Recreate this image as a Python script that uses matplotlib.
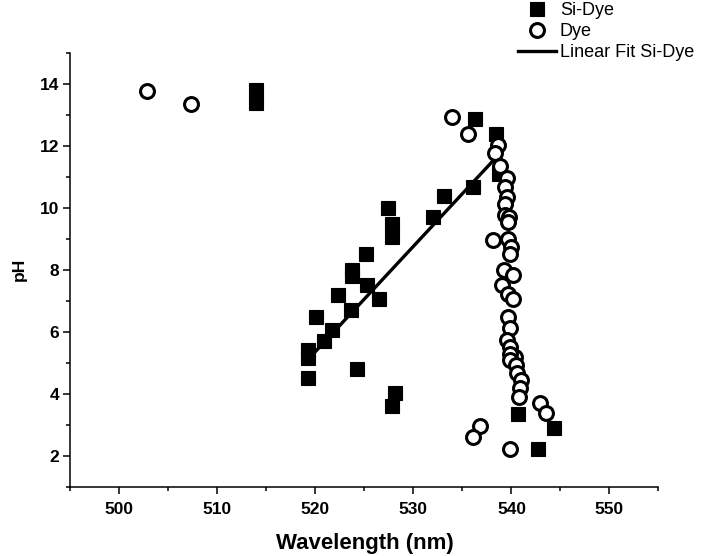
import matplotlib
matplotlib.use("Agg")
import matplotlib.pyplot as plt
import numpy as np
from matplotlib.ticker import MultipleLocator
from matplotlib.legend_handler import HandlerLine2D

plt.rcParams['font.family'] = ['Liberation Sans', 'DejaVu Sans']

# Si-Dye (filled squares)
si_dye_wl = [513.9, 513.9, 519.2, 519.2, 519.2, 520.9, 521.7, 520.1, 523.6, 526.5,
             522.3, 525.3, 523.7, 523.7, 525.2, 527.8, 527.8, 527.4, 532.0, 533.1,
             536.1, 538.7, 538.4, 536.3, 524.2, 528.1, 527.8, 540.7, 544.3, 542.7]
si_dye_ph = [13.8, 13.4, 4.5, 5.14, 5.41, 5.70, 6.07, 6.48, 6.69, 7.07,
             7.2, 7.5, 7.8, 8.0, 8.5, 9.05, 9.48, 10.0, 9.69, 10.37,
             10.68, 11.1, 12.4, 12.88, 4.79, 4.02, 3.59, 3.34, 2.91, 2.22]

# Dye (open circles)
dye_wl = [502.85, 507.3, 533.9, 535.6, 538.65, 538.3, 538.8, 539.5, 539.3, 539.5,
          539.3, 539.3, 539.8, 539.7, 538.1, 539.7, 540.0, 539.85, 539.2, 540.2,
          539.0, 539.7, 540.2, 539.7, 539.85, 539.5, 539.85, 540.4, 539.85, 539.85,
          540.5, 540.6, 541.0, 540.9, 540.8, 542.9, 543.5, 536.8, 536.1, 539.9]
dye_ph = [13.77, 13.36, 12.93, 12.4, 12.03, 11.78, 11.36, 10.96, 10.66, 10.36,
          10.12, 9.78, 9.69, 9.53, 8.95, 9.0, 8.73, 8.52, 7.98, 7.82,
          7.5, 7.23, 7.07, 6.48, 6.11, 5.73, 5.51, 5.19, 5.30, 5.09,
          4.93, 4.66, 4.44, 4.18, 3.91, 3.71, 3.39, 2.96, 2.62, 2.22]

# Linear fit of Si-Dye
fit_slope = 0.34
fit_intercept = -171.44
fit_range = [519.6, 539.0]


class LeftMarkerHandler(HandlerLine2D):
    """Place the single legend marker toward the left of the handle (Origin style)."""
    def get_xdata(self, legend, xdescent, ydescent, width, height, fontsize):
        xdata = np.array([-xdescent, -xdescent + width])
        xdata_marker = np.array([-xdescent + 0.24 * width])
        return xdata, xdata_marker


fig = plt.figure(figsize=(7.24, 5.56), dpi=100)
ax = fig.add_axes([0.0971, 0.1246, 0.9095 - 0.0971, 0.9047 - 0.1246])

h1, = ax.plot(si_dye_wl, si_dye_ph, linestyle='none', marker='s', markersize=10,
              markerfacecolor='black', markeredgecolor='black', markeredgewidth=0.8,
              label='Si-Dye', zorder=3)
h2, = ax.plot(dye_wl, dye_ph, linestyle='none', marker='o', markersize=10,
              markerfacecolor='white', markeredgecolor='black', markeredgewidth=2.2,
              label='Dye', zorder=4)
fx = np.array(fit_range)
h3, = ax.plot(fx, fit_slope * fx + fit_intercept, color='black', linewidth=2.4,
              label='Linear Fit Si-Dye', zorder=3.5)

ax.set_xlim(495, 555)
ax.set_ylim(1, 15)
ax.xaxis.set_major_locator(MultipleLocator(10))
ax.xaxis.set_minor_locator(MultipleLocator(5))
ax.yaxis.set_major_locator(MultipleLocator(2))
ax.yaxis.set_minor_locator(MultipleLocator(1))

for s in ['top', 'right']:
    ax.spines[s].set_visible(False)
for s in ['left', 'bottom']:
    ax.spines[s].set_linewidth(1.1)
ax.tick_params(which='major', direction='out', length=5, width=1.1, labelsize=12.5)
ax.tick_params(which='minor', direction='out', length=3, width=1.1)
ax.tick_params(axis='x', which='major', pad=6)
ax.tick_params(axis='y', which='major', pad=3)
for lab in ax.get_xticklabels() + ax.get_yticklabels():
    lab.set_fontweight('bold')

ax.set_xlabel('Wavelength (nm)', fontsize=16, fontweight='bold', labelpad=11.5)
ax.set_ylabel('pH', fontsize=12.5, fontweight='bold', labelpad=9)

leg = fig.legend(handles=[h1, h2, h3], loc='upper left',
                 bbox_to_anchor=(0.7155, 0.9964), frameon=False,
                 fontsize=13, handlelength=2.1, handletextpad=0.22,
                 labelspacing=0.22, borderaxespad=0, borderpad=0, numpoints=1,
                 handler_map={h1: LeftMarkerHandler(), h2: LeftMarkerHandler()})

fig.savefig('out.png', dpi=100)
